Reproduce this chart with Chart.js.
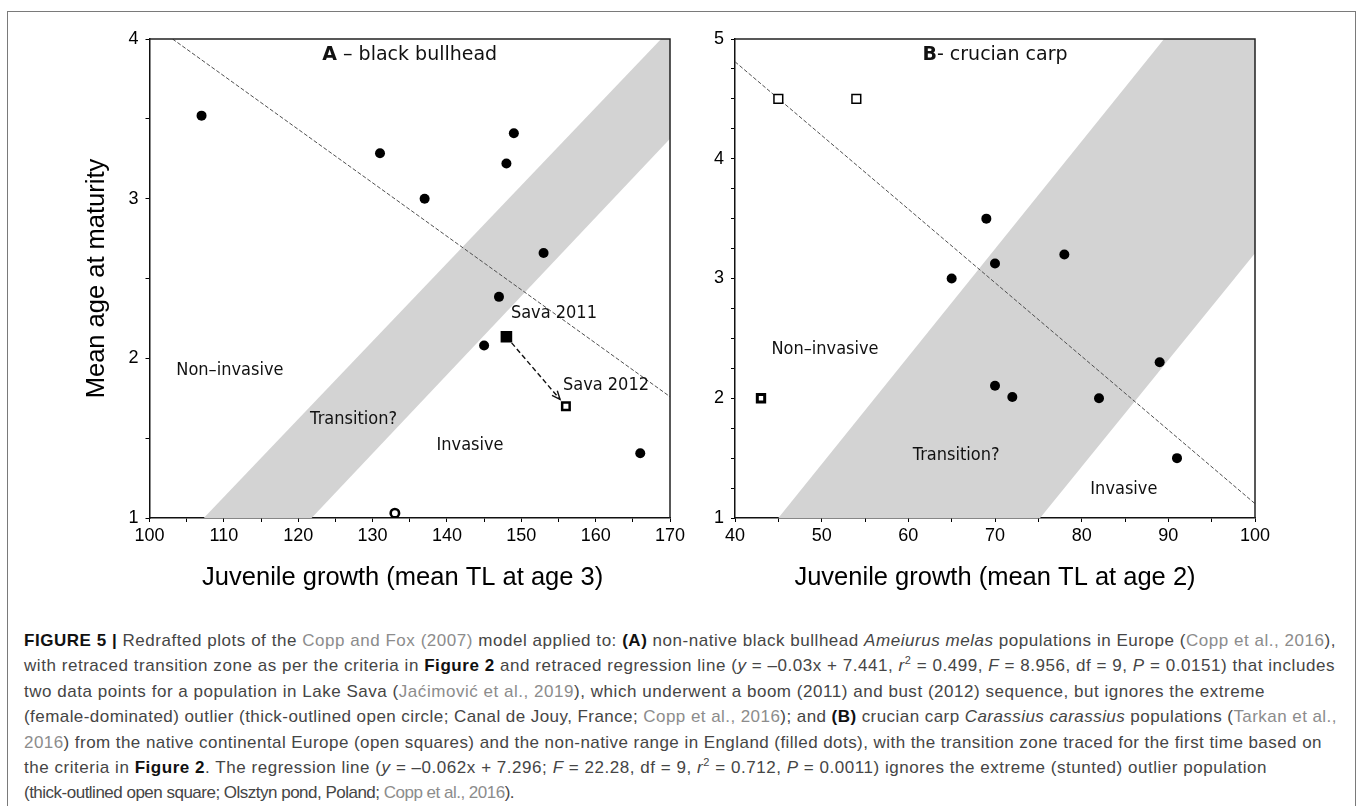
<!DOCTYPE html>
<html lang="en">
<head>
<meta charset="UTF-8">
<title>Figure 5 - black bullhead and crucian carp</title>
<script src="https://cdn.jsdelivr.net/npm/chart.js"></script>
<style>
  body { margin: 0; background: #fff; }
  #fig { position: relative; width: 1357px; height: 806px; overflow: hidden; background: #fff; }
  #frame { position: absolute; left: 7px; top: 11px; width: 1347px; height: 830px; border: 1.5px solid #7a7a7a; }
  #chartA { position: absolute; left: 0; top: 0; }
  #chartB { position: absolute; left: 690px; top: 0; }
  #caption { position: absolute; left: 24px; top: 628px; font-family: "Liberation Sans", Arial, sans-serif;
             font-size: 17px; line-height: 25.4px; color: #454545; }
  #caption div { white-space: nowrap; }
  #caption b { color: #111; }
  #caption .ref { color: #8c8c8c; }
  #caption sup { font-size: 11px; line-height: 0; vertical-align: 7px; }
</style>
</head>
<body>
<div id="fig">
  <div id="frame"></div>
  <canvas id="chartA" width="690" height="600"></canvas>
  <canvas id="chartB" width="667" height="600"></canvas>
  <div id="caption">
    <div data-w="1312"><b>FIGURE 5 |</b> Redrafted plots of the <span class="ref">Copp and Fox (2007)</span> model applied to: <b>(A)</b> non-native black bullhead <i>Ameiurus melas</i> populations in Europe (<span class="ref">Copp et al., 2016</span>),</div>
    <div data-w="1311">with retraced transition zone as per the criteria in <b>Figure 2</b> and retraced regression line (<i>y</i> = –0.03x + 7.441, <i>r</i><sup>2</sup> = 0.499, <i>F</i> = 8.956, df = 9, <i>P</i> = 0.0151) that includes</div>
    <div data-w="1241">two data points for a population in Lake Sava (<span class="ref">Jaćimović et al., 2019</span>), which underwent a boom (2011) and bust (2012) sequence, but ignores the extreme</div>
    <div data-w="1313">(female-dominated) outlier (thick-outlined open circle; Canal de Jouy, France; <span class="ref">Copp et al., 2016</span>); and <b>(B)</b> crucian carp <i>Carassius carassius</i> populations (<span class="ref">Tarkan et al.,</span></div>
    <div data-w="1298"><span class="ref">2016</span>) from the native continental Europe (open squares) and the non-native range in England (filled dots), with the transition zone traced for the first time based on</div>
    <div data-w="1243">the criteria in <b>Figure 2</b>. The regression line (<i>y</i> = –0.062x + 7.296; <i>F</i> = 22.28, df = 9, <i>r</i><sup>2</sup> = 0.712, <i>P</i> = 0.0011) ignores the extreme (stunted) outlier population</div>
    <div data-w="490">(thick-outlined open square; Olsztyn pond, Poland; <span class="ref">Copp et al., 2016</span>).</div>
  </div>
</div>

<script>
// ---- panel A: black bullhead ----
const aDotsX = [107, 131, 149, 148, 137, 153, 147, 145, 166];
const aDotsY = [3.52, 3.285, 3.41, 3.22, 3.0, 2.66, 2.385, 2.08, 1.405];
const aBoomX = [148];      // Sava 2011
const aBoomY = [2.135];
const aBustX = [156];      // Sava 2012
const aBustY = [1.70];
const aOutlierX = [133];   // Canal de Jouy
const aOutlierY = [1.03];
const aLineX = [103.1, 170];
const aLineY = [4.0, 1.76];
const aZoneX = [107.3, 121.8, 170, 170, 168.8];
const aZoneY = [1, 1, 3.375, 4, 4];
const aXTicks = [100, 110, 120, 130, 140, 150, 160, 170];
const aYTicks = [1, 2, 3, 4];
const aLabels = ["Non\u2013invasive", "Transition?", "Invasive", "Sava 2011", "Sava 2012"];
const aLabelX = [103.6, 121.6, 138.6, 148.6, 155.6];
const aLabelY = [1.923, 1.62, 1.453, 2.28, 1.829];

// ---- panel B: crucian carp ----
const bDotsX = [69, 78, 70, 65, 89, 70, 72, 82, 91];
const bDotsY = [3.5, 3.2, 3.125, 3.0, 2.3, 2.105, 2.01, 2.0, 1.5];
const bNativeX = [45, 54];
const bNativeY = [4.5, 4.5];
const bOutlierX = [43];    // Olsztyn pond
const bOutlierY = [2.0];
const bLineX = [40, 100];
const bLineY = [4.81, 1.12];
const bZoneX = [45, 75.2, 100, 100, 89.5];
const bZoneY = [1, 1, 3.21, 5, 5];
const bXTicks = [40, 50, 60, 70, 80, 90, 100];
const bYTicks = [1, 2, 3, 4, 5];
const bLabels = ["Non\u2013invasive", "Transition?", "Invasive"];
const bLabelX = [44.2, 60.5, 81.0];
const bLabelY = [2.409, 1.524, 1.24];

const pts = (xs, ys) => xs.map((x, i) => ({x: x, y: ys[i]}));
const axisFont = {family: '"Liberation Sans", Arial, sans-serif', size: 18};
const titleFont = {family: '"Liberation Sans", Arial, sans-serif', size: 25.5};

function zone(xs, ys) {
  return {type: "line", data: pts(xs, ys), fill: "shape", backgroundColor: "#d3d3d3",
          borderWidth: 0, pointRadius: 0, tension: 0, order: 10};
}
function regLine(xs, ys) {
  return {type: "line", data: pts(xs, ys), fill: false, borderColor: "#505050", borderWidth: 1,
          borderDash: [4, 2], pointRadius: 0, tension: 0, order: 5};
}
function marks(xs, ys, style, r, bg, bw) {
  return {data: pts(xs, ys), pointStyle: style, pointRadius: r, pointHoverRadius: r,
          backgroundColor: bg, borderColor: "#000", borderWidth: bw, order: 0};
}

function panelPlugin(p) {
  return {
    id: "panel" + p.letter,
    afterDatasetsDraw(chart) {
      const {ctx, chartArea: a, scales: {x, y}} = chart;
      ctx.save();
      // top + right frame
      ctx.strokeStyle = "#222";
      ctx.lineWidth = 1.5;
      ctx.beginPath();
      ctx.moveTo(a.left, a.top);
      ctx.lineTo(a.right, a.top);
      ctx.lineTo(a.right, a.bottom);
      ctx.stroke();

      // arrow Sava 2011 -> Sava 2012
      if (p.arrow) {
        const x0 = x.getPixelForValue(p.arrow[0]), y0 = y.getPixelForValue(p.arrow[1]);
        const x1 = x.getPixelForValue(p.arrow[2]), y1 = y.getPixelForValue(p.arrow[3]);
        const len = Math.hypot(x1 - x0, y1 - y0), dx = (x1 - x0) / len, dy = (y1 - y0) / len;
        const sx = x0 + dx * 8, sy = y0 + dy * 8, ex = x1 - dx * 9, ey = y1 - dy * 9;
        ctx.strokeStyle = "#111";
        ctx.lineWidth = 1.4;
        ctx.setLineDash([5, 3]);
        ctx.beginPath(); ctx.moveTo(sx, sy); ctx.lineTo(ex, ey); ctx.stroke();
        ctx.setLineDash([]);
        const ang = Math.atan2(dy, dx);
        ctx.beginPath();
        ctx.moveTo(ex - 9 * Math.cos(ang - 0.4), ey - 9 * Math.sin(ang - 0.4));
        ctx.lineTo(ex, ey);
        ctx.lineTo(ex - 9 * Math.cos(ang + 0.4), ey - 9 * Math.sin(ang + 0.4));
        ctx.stroke();
      }

      // region labels
      ctx.fillStyle = "#111";
      ctx.textBaseline = "middle";
      ctx.textAlign = "left";
      ctx.font = '18px "DejaVu Sans", sans-serif';
      p.labels.forEach((t, i) => {
        ctx.save();
        ctx.translate(x.getPixelForValue(p.labelX[i]), y.getPixelForValue(p.labelY[i]));
        ctx.scale(0.9, 1);
        ctx.fillText(t, 0, 0);
        ctx.restore();
      });

      // panel heading
      ctx.font = 'bold 19px "DejaVu Sans", sans-serif';
      const w1 = ctx.measureText(p.letter).width;
      ctx.font = '19px "DejaVu Sans", sans-serif';
      const w2 = ctx.measureText(p.heading).width;
      const tx = (a.left + a.right) / 2 - (w1 + w2) / 2, ty = a.top + 16;
      ctx.font = 'bold 19px "DejaVu Sans", sans-serif';
      ctx.fillText(p.letter, tx, ty);
      ctx.font = '19px "DejaVu Sans", sans-serif';
      ctx.fillText(p.heading, tx + w1, ty);
      ctx.restore();
    }
  };
}

function axes(o) {
  const common = {
    type: "linear",
    grid: {display: true, drawOnChartArea: false, drawTicks: true, tickLength: 4, tickColor: "#000", tickWidth: 1},
    border: {display: true, color: "#111", width: 1.5}
  };
  return {
    x: Object.assign({}, common, {
      min: o.xMin, max: o.xMax,
      ticks: {stepSize: 5, autoSkip: false, maxRotation: 0, color: "#000", font: axisFont, padding: 3,
              callback: v => o.xTicks.includes(v) ? v : ""},
      title: {display: true, text: o.xTitle, color: "#000", font: titleFont, padding: {top: 0, bottom: 6.5}},
      afterFit: s => { s.height = 82; }
    }),
    y: Object.assign({}, common, {
      min: o.yMin, max: o.yMax,
      ticks: {stepSize: o.yStep, autoSkip: false, color: "#000", font: axisFont, padding: 7,
              callback: v => o.yTicks.includes(v) ? v : ""},
      title: {display: !!o.yTitle, text: o.yTitle || "", color: "#000", font: titleFont, padding: {top: 82, bottom: 0}},
      afterFit: s => { s.width = o.yWidth; }
    })
  };
}

const base = {
  responsive: false,
  animation: false,
  events: [],
  plugins: {legend: {display: false}, tooltip: {enabled: false}}
};

new Chart(document.getElementById("chartA"), {
  type: "scatter",
  data: {
    datasets: [
      zone(aZoneX, aZoneY),
      regLine(aLineX, aLineY),
      marks(aDotsX, aDotsY, "circle", 5, "#000", 0),
      marks(aBoomX, aBoomY, "rect", 8.2, "#000", 0),
      marks(aBustX, aBustY, "rect", 5.3, "#fff", 2.5),
      marks(aOutlierX, aOutlierY, "circle", 4.2, "#fff", 2.6)
    ]
  },
  options: Object.assign({}, base, {
    layout: {padding: {left: 0, top: 39, right: 20, bottom: 0}},
    scales: axes({xMin: 100, xMax: 170, xTicks: aXTicks, yMin: 1, yMax: 4, yStep: 0.5, yTicks: aYTicks,
                  xTitle: "Juvenile growth (mean TL at age 3)  ", yTitle: "Mean age at maturity", yWidth: 149.5})
  }),
  plugins: [panelPlugin({letter: "A", heading: " \u2013 black bullhead", labels: aLabels, labelX: aLabelX, labelY: aLabelY,
                         arrow: [aBoomX[0], aBoomY[0], aBustX[0], aBustY[0]]})]
});

new Chart(document.getElementById("chartB"), {
  type: "scatter",
  data: {
    datasets: [
      zone(bZoneX, bZoneY),
      regLine(bLineX, bLineY),
      marks(bDotsX, bDotsY, "circle", 5, "#000", 0),
      marks(bNativeX, bNativeY, "rect", 6.2, "#fff", 1.5),
      marks(bOutlierX, bOutlierY, "rect", 5.2, "#fff", 3)
    ]
  },
  options: Object.assign({}, base, {
    layout: {padding: {left: 0, top: 39, right: 102, bottom: 0}},
    scales: axes({xMin: 40, xMax: 100, xTicks: bXTicks, yMin: 1, yMax: 5, yStep: 0.25, yTicks: bYTicks,
                  xTitle: "Juvenile growth (mean TL at age 2)", yTitle: "", yWidth: 45})
  }),
  plugins: [panelPlugin({letter: "B", heading: "- crucian carp", labels: bLabels, labelX: bLabelX, labelY: bLabelY})]
});

// fit each caption line to the width it has in the printed figure
document.querySelectorAll("#caption div").forEach(line => {
  const r = document.createRange();
  r.selectNodeContents(line);
  const w = r.getBoundingClientRect().width;
  const ls = (+line.dataset.w - w) / line.textContent.length;
  line.style.letterSpacing = ls.toFixed(3) + "px";
});
</script>
</body>
</html>
